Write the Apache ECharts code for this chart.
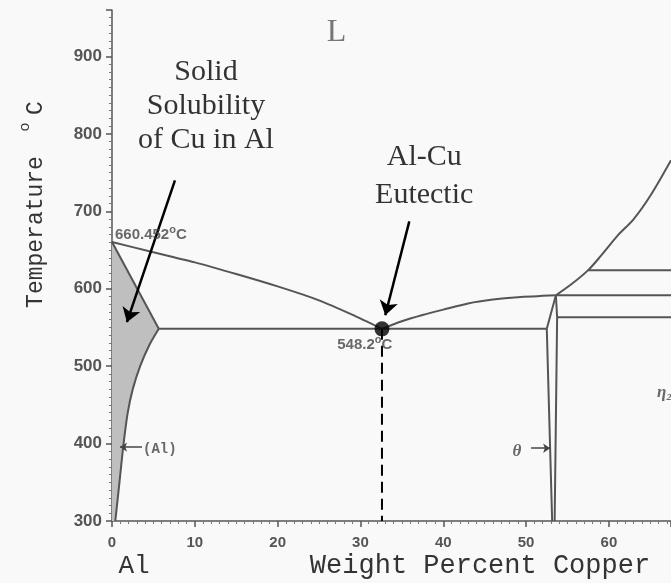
<!DOCTYPE html>
<html><head><meta charset="utf-8">
<script src="https://cdn.jsdelivr.net/npm/echarts@6/dist/echarts.min.js"></script>
<style>html,body{margin:0;padding:0;background:#f9f9f9}#c{width:671px;height:583px}</style>
</head><body><div id="c"></div>
<script>
// ---- data (wt% Cu, temperature °C) ----
const xTicks = [0, 10, 20, 30, 40, 50, 60];
const yTicks = [300, 400, 500, 600, 700, 800, 900];
const liquidusAl = [[0,660.452],[5,647],[10,634],[15,619],[20,603],[25,585],[29,566.5],[32.6,548.2]];
const solidusAl = [[0,660.452],[5.65,548.2]];
const solvusAl = [[5.65,548.2],[4.5,527],[3.4,500],[2.5,470],[1.9,440],[1.4,400],[0.9,350],[0.4,300]];
const liquidusTheta = [[32.6,548.2],[35,558],[37.5,566],[40,573],[43,581],[46,586],[49,589],[53.6,591.5]];
const liquidusHigh = [[53.6,591.5],[55.5,606],[57.5,624],[59,642],[61,668],[63,690],[65,720],[67.5,766]];
const eutecticLine = [[5.65,548.2],[52.5,548.2]];
const thetaLeft = [[53.6,591.5],[52.5,548.2],[53.15,300]];
const thetaRight = [[53.6,591.5],[53.75,563],[53.45,300]];
const iso624 = [[57.5,624],[67.5,624]];
const iso591 = [[53.6,591.5],[67.5,591.5]];
const iso563 = [[53.75,563],[67.5,563]];
const eutectic = [32.6, 548.2];
const eutecticDrop = [[32.6,548.2],[32.6,300]];
const shadedRegion = [[0,300]].concat(solvusAl.slice().reverse()).concat([[0,660.452]]);
const bigArrows = [[[7.6,740],[1.8,556.8]], [[35.9,687],[33.0,565.8]]];
const smallArrows = [[[3.62,395.5],[0.97,395.5]], [[50.6,394],[52.9,394]]];

const LINE = '#555';
function seg(data, smooth) {
  return {type:'line', data:data, smooth:smooth || false, symbol:'none', silent:true,
    lineStyle:{color:LINE, width:2}, z:3};
}
const sup = {fontSize:11, fontWeight:'bold', color:'#444', fontFamily:'Liberation Sans', verticalAlign:'top', lineHeight:11};
const num = {fontSize:15, fontWeight:'bold', color:'#444', fontFamily:'Liberation Sans', lineHeight:21};

const annots = [
  {value:[27.1,931], label:{formatter:'L', fontFamily:'Liberation Serif', fontSize:32, color:'#555', align:'center'}},
  {value:[11.35,836], label:{formatter:'Solid\nSolubility\nof Cu in Al', fontFamily:'Liberation Serif', fontSize:30, lineHeight:34, color:'#000', align:'center'}},
  {value:[37.7,745], label:{formatter:'Al-Cu\nEutectic', fontFamily:'Liberation Serif', fontSize:30, lineHeight:38, color:'#000', align:'center'}},
  {value:[0.36,669], label:{formatter:'{n|660.452}{s|o}{n|C}', align:'left', rich:{n:num, s:sup}}},
  {value:[27.2,527], label:{formatter:'{n|548.2}{s|o}{n|C}', align:'left', rich:{n:num, s:sup}}},
  {value:[3.75,393], label:{formatter:'(Al)', fontFamily:'Liberation Mono', fontWeight:'bold', fontSize:14, color:'#444', align:'left'}},
  {value:[48.9,389], label:{formatter:'θ', fontFamily:'Liberation Serif', fontStyle:'italic', fontWeight:'bold', fontSize:17, color:'#444', align:'center'}},
  {value:[65.8,466], label:{formatter:'η₂', fontFamily:'Liberation Serif', fontStyle:'italic', fontWeight:'bold', fontSize:17, color:'#444', align:'left'}}
];
annots.forEach(a => { a.label.show = true; a.label.position = [0,0]; a.label.verticalAlign = 'middle'; });

const MONO = {fontFamily:'Liberation Mono', fontWeight:'normal', fill:'#333'};
const chart = echarts.init(document.getElementById('c'));
chart.setOption({
  animation:false,
  backgroundColor:'#f9f9f9',
  grid:{left:112, top:10, right:0, bottom:62, containLabel:false},
  xAxis:{type:'value', min:0, max:67.5, interval:10,
    axisLine:{show:true, lineStyle:{color:LINE, width:1.5}},
    axisTick:{show:true, length:6, lineStyle:{color:LINE, width:1.5}},
    minorTick:{show:true, splitNumber:10, length:3, lineStyle:{color:'#777'}},
    splitLine:{show:false},
    axisLabel:{margin:14, fontSize:15, fontWeight:'bold', color:'#555', fontFamily:'Liberation Sans', showMaxLabel:false,
      formatter: v => xTicks.indexOf(v) >= 0 ? String(v) : ''}},
  yAxis:{type:'value', min:300, max:960, interval:100,
    axisLine:{show:true, lineStyle:{color:LINE, width:1.5}},
    axisTick:{show:true, length:6, lineStyle:{color:LINE, width:1.5}},
    minorTick:{show:true, splitNumber:10, length:3, lineStyle:{color:'#777'}},
    splitLine:{show:false},
    axisLabel:{margin:10, fontSize:17, fontWeight:'bold', color:'#555', fontFamily:'Liberation Sans', showMaxLabel:false,
      formatter: v => yTicks.indexOf(v) >= 0 ? String(v) : ''}},
  graphic:[
    {type:'text', x:36, y:232, rotation:Math.PI/2, silent:true,
      style:Object.assign({text:'Temperature', fontSize:23, align:'center', verticalAlign:'middle'}, MONO)},
    {type:'text', x:25, y:127, rotation:Math.PI/2, silent:true,
      style:Object.assign({text:'o', fontSize:15, align:'center', verticalAlign:'middle'}, MONO)},
    {type:'text', x:36, y:108, rotation:Math.PI/2, silent:true,
      style:Object.assign({text:'C', fontSize:23, align:'center', verticalAlign:'middle'}, MONO)},
    {type:'text', x:134, y:566, silent:true,
      style:Object.assign({text:'Al', fontSize:26, align:'center', verticalAlign:'middle'}, MONO)},
    {type:'text', x:480, y:566, silent:true,
      style:Object.assign({text:'Weight Percent Copper', fontSize:27, align:'center', verticalAlign:'middle'}, MONO)}
  ],
  series:[
    {type:'custom', data:[[0,300]], silent:true, z:1,
      renderItem:(params, api) => ({type:'polygon', shape:{points:shadedRegion.map(p => api.coord(p))}, style:{fill:'#bfbfbf'}})},
    seg(liquidusAl, 0.2), seg(solidusAl), seg(solvusAl, 0.3), seg(liquidusTheta, 0.25), seg(liquidusHigh, 0.3),
    seg(eutecticLine), seg(thetaLeft), seg(thetaRight), seg(iso624), seg(iso591), seg(iso563),
    {type:'line', data:eutecticDrop, symbol:'none', silent:true, z:4, lineStyle:{color:'#000', width:2, type:[11,6]}},
    {type:'lines', coordinateSystem:'cartesian2d', silent:true, z:6, symbol:['none','arrow'], symbolSize:14,
      lineStyle:{color:'#000', width:2.5, opacity:1}, data:bigArrows.map(c => ({coords:c}))},
    {type:'lines', coordinateSystem:'cartesian2d', silent:true, z:6, symbol:['none','arrow'], symbolSize:7,
      lineStyle:{color:'#444', width:1.5, opacity:1}, data:smallArrows.map(c => ({coords:c}))},
    {type:'scatter', data:[eutectic], symbolSize:15, silent:true, z:10, itemStyle:{color:'#000'}},
    {type:'scatter', data:annots, symbolSize:0, silent:true, z:8}
  ]
});
</script></body></html>
